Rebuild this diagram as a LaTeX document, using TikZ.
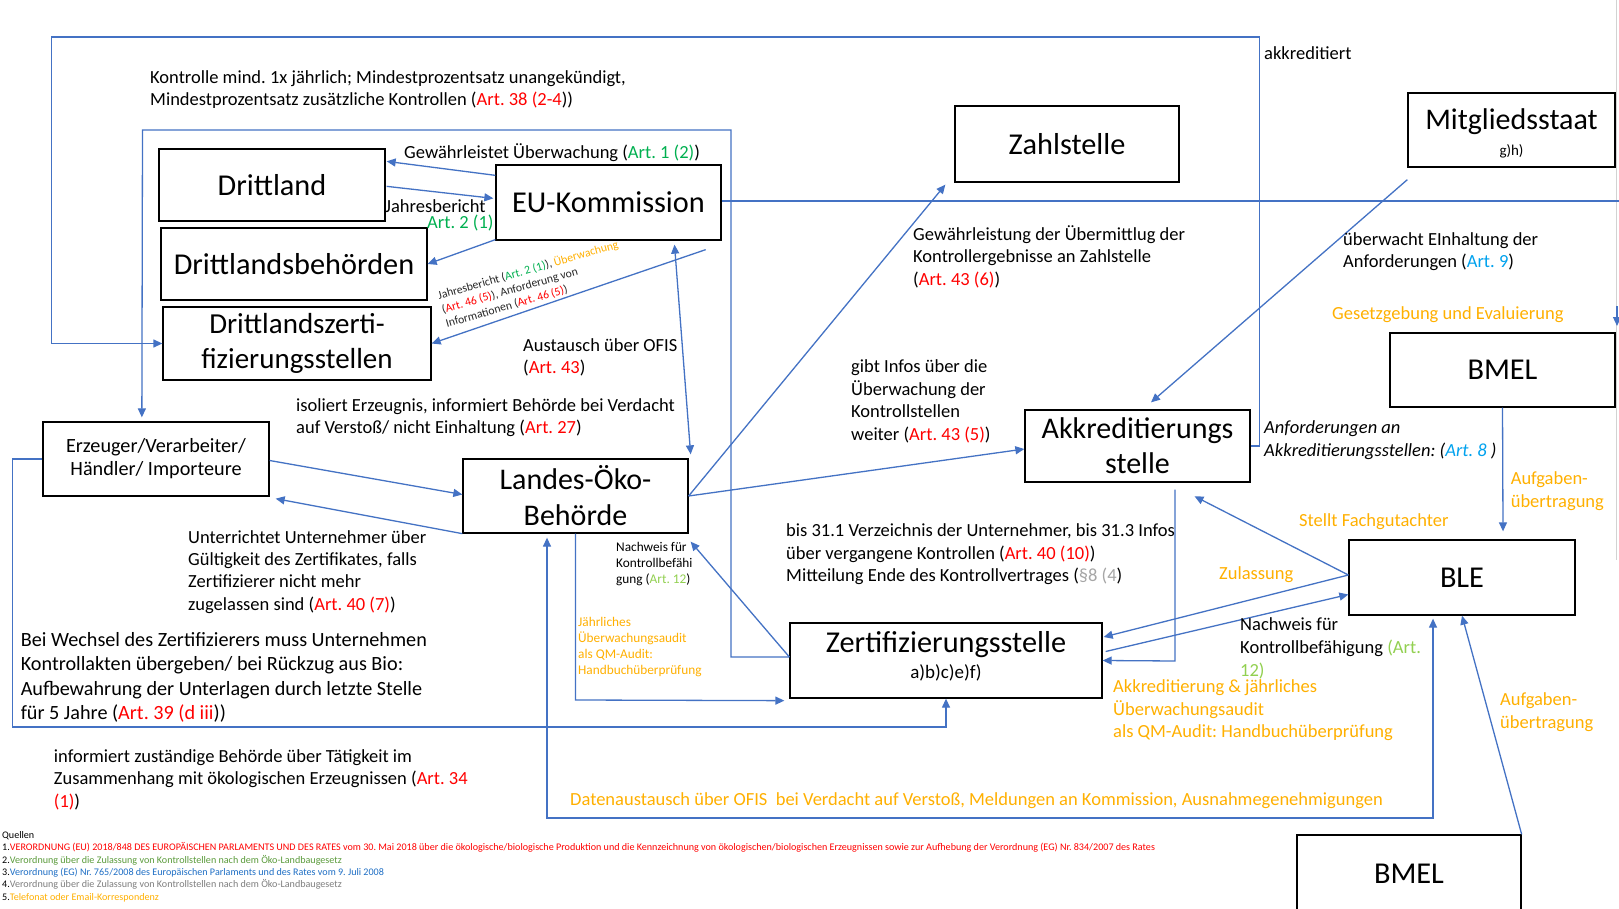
\documentclass[tikz,border=0pt]{standalone}
\usepackage{fontspec}
\setmainfont{Carlito}
\usetikzlibrary{calc,arrows.meta}
\definecolor{bl}{HTML}{4472C4}
\definecolor{rd}{HTML}{FF0000}
\definecolor{gr}{HTML}{00B050}
\definecolor{lg}{HTML}{92D050}
\definecolor{og}{HTML}{FFB000}
\definecolor{cy}{HTML}{00A2EE}
\definecolor{gy}{HTML}{A6A6A6}
\definecolor{dg}{HTML}{5B9B3B}
\definecolor{sb}{HTML}{1F6FC5}
\definecolor{sg}{HTML}{7F7F7F}
\newcommand{\redt}[1]{\textcolor{rd}{#1}}
\newcommand{\grnt}[1]{\textcolor{gr}{#1}}
\newcommand{\lgrt}[1]{\textcolor{lg}{#1}}
\newcommand{\ogt}[1]{\textcolor{og}{#1}}
\newcommand{\cyt}[1]{\textcolor{cy}{#1}}
\newcommand{\gyt}[1]{\textcolor{gy}{#1}}
\frenchspacing
\begin{document}
\begin{tikzpicture}[x=1pt,y=-1pt,
 bx/.style={draw=black,line width=1.3pt,inner sep=0pt,align=center,font=\fontsize{30.3}{35}\selectfont},
 ar/.style={draw=bl,line width=1.3pt,-{Triangle[length=9pt,width=8pt]}},
 dar/.style={draw=bl,line width=1.3pt,{Triangle[length=9pt,width=8pt]}-{Triangle[length=9pt,width=8pt]}},
 ln/.style={draw=bl,line width=1.3pt},
 lbl/.style={anchor=north west,inner sep=0pt,align=left,font=\fontsize{18.5}{22.5}\selectfont},
 sml/.style={anchor=north west,inner sep=0pt,align=left,font=\fontsize{13.3}{16}\selectfont},
 src/.style={anchor=north west,inner sep=0pt,align=left,font=\fontsize{10.1}{12.4}\selectfont},
 ]
\useasboundingbox (0,0) rectangle (1619,909);
\fill[white] (0,0) rectangle (1619,909);
\draw[gray!35,line width=1pt] (1616,0) -- (1616,560);

% boxes
\node[bx,minimum width=226pt,minimum height=72pt] (drittland) at (272,185) {Drittland};
\node[bx,minimum width=225pt,minimum height=75pt] (eu) at (608.5,202.5) {EU-Kommission};
\node[bx,minimum width=266pt,minimum height=72pt] (dbeh) at (294,264) {Drittlandsbehörden};
\node[bx,minimum width=268pt,minimum height=73pt,font=\fontsize{29}{35}\selectfont] (dzs) at (297,343.5) {Drittlandszerti-\\fizierungsstellen};
\node[bx,minimum width=224pt,minimum height=76pt] (zahl) at (1067,144) {Zahlstelle};
\node[bx,minimum width=207pt,minimum height=74pt] (mitglied) at (1511.5,130) {\mbox{}\\[-7pt]{\fontsize{30}{30}\selectfont Mitgliedsstaat}\\[-9pt]{\fontsize{15}{15}\selectfont g)h)}};
\node[bx,minimum width=225pt,minimum height=74pt] (bmel1) at (1502.5,370) {BMEL};
\node[bx,minimum width=225pt,minimum height=72pt,font=\fontsize{30}{35}\selectfont] (akk) at (1137.5,446) {Akkreditierungs\\stelle};
\node[bx,minimum width=226pt,minimum height=74pt,font=\fontsize{20.2}{23}\selectfont] (erz) at (156,459) {Erzeuger/Verarbeiter/\\Händler/ Importeure};
\node[bx,minimum width=225pt,minimum height=74pt,font=\fontsize{30}{36}\selectfont] (loeb) at (575.5,496) {Landes-Öko-\\Behörde};
\node[bx,minimum width=226pt,minimum height=75pt] (ble) at (1462,577.5) {BLE};
\node[bx,minimum width=312pt,minimum height=75pt] (zert) at (946,660.5) {{\fontsize{30.3}{30}\selectfont Zertifizierungsstelle}\\[-9pt]{\fontsize{19}{19}\selectfont a)b)c)e)f)}\\[-24pt]\mbox{}};
\node[bx,minimum width=224pt,minimum height=77pt] (bmel2) at (1409,873.5) {BMEL};

% connectors
\draw[ar] (akk.east) -- (1259.7,446) -- (1259.7,37) -- (51.6,37) -- (51.6,343.5) -- (dzs.west);
\draw[ar] ($(zert.west)+(0,-3.5)$) -- (731,657) -- (731,130) -- (142.5,130) -- ($(erz.north west)+(99.5,-4)$);
\draw[ar] ($(eu.north west)+(0,11)$) -- ($(drittland.north east)+(1,13)$);
\draw[ar] ($(drittland.north east)+(1,38)$) -- ($(eu.north west)+(-2,34)$);
\draw[ar] ($(eu.south west)+(0,-1)$) -- (dbeh.east);
\draw[ar] ($(eu.south east)+(-16,9)$) -- (dzs.east);
\draw[dar] ($(eu.south)+(66,4)$) -- ($(loeb.north east)+(2,-4)$);
\draw[ar] (loeb.east) -- ($(zahl.south west)+(-9,2)$);
\draw[ar] (loeb.east) -- ($(akk.west)+(0,3)$);
\draw[ar] ($(mitglied.south west)+(0,12)$) -- ($(akk.north)+(13.5,-7)$);
\coordinate (edgeR) at (1619,201);
\draw[ln] ($(eu.east)+(0,-1.5)$) -- (edgeR);
\coordinate (edgeA) at (1617,306);
\draw[ar] (edgeA) -- (1617,326);
\draw[ar] ($(erz.east)+(0,1.5)$) -- ($(loeb.west)+(0,-1.5)$);
\draw[ar] (loeb.south west) -- ($(erz.south east)+(6,2)$);
\draw[ar] (erz.west) -- (12.4,459) -- (12.4,727) -- (946,727) -- (zert.south);
\draw[ar] (loeb.south) -- (575.5,700) -- ($(zert.south west)+(-5,2)$);
\draw[ar] ($(zert.west)+(0,-3.5)$) -- ($(loeb.south east)+(2,8)$);
\draw[dar] ($(loeb.south)+(-28.5,4)$) -- (547,818) -- (1433,818) -- ($(ble.south)+(-29,3)$);
\draw[ar] ($(akk.south)+(37.5,7)$) -- (1175,661) -- (zert.east);
\draw[ar] ($(ble.west)+(0,-2.5)$) -- ($(zert.east)+(1,-23.5)$);
\draw[ar] ($(zert.east)+(3,-9)$) -- ($(ble.west)+(0,17)$);
\draw[ar] ($(ble.west)+(0,-2.5)$) -- ($(akk.south)+(57,13.6)$);
\draw[ar] (bmel1.south) -- ($(ble.north)+(41,-8)$);
\draw[ar] (bmel2.north east) -- (ble.south);

% labels
\node[lbl] (l1) at (150,70) {Kontrolle mind. 1x jährlich; Mindestprozentsatz unangekündigt,\\Mindestprozentsatz zusätzliche Kontrollen (\redt{Art. 38 (2-4}))};
\node[lbl] (l2) at (404,143) {Gewährleistet Überwachung (\grnt{Art. 1 (2)})};
\node[lbl] (l3) at (385,199) {Jahresbericht};
\node[lbl] (l4) at (427,215) {\grnt{Art. 2 (1)}};
\node[inner sep=0pt,align=left,rotate=16,font=\fontsize{11.7}{14.5}\selectfont,text=black!85] (l5) at (532,284) {Jahresbericht (\grnt{Art. 2 (1)}), \ogt{Überwachung}\\(\redt{Art. 46 (5)}), Anforderung von\\Informationen (\redt{Art. 46 (5)})};
\node[lbl] (l6) at (523,338) {Austausch über OFIS\\(\redt{Art. 43})};
\node[lbl] (l7) at (296,398) {isoliert Erzeugnis, informiert Behörde bei Verdacht\\auf Verstoß/ nicht Einhaltung (\redt{Art. 27})};
\node[lbl] (l8) at (913,225) {Gewährleistung der Übermittlug der\\Kontrollergebnisse an Zahlstelle\\(\redt{Art. 43 (6)})};
\node[lbl] (l9) at (851,359.5) {gibt Infos über die\\Überwachung der\\Kontrollstellen\\weiter (\redt{Art. 43 (5)})};
\node[lbl] (l10) at (1343,232) {überwacht EInhaltung der\\Anforderungen (\cyt{Art. 9})};
\node[lbl,text=og] (l11) at (1332,306) {Gesetzgebung und Evaluierung};
\node[lbl,font=\fontsize{18.5}{22.5}\selectfont\itshape] (l12) at (1264,420.5) {Anforderungen an\\Akkreditierungsstellen: (\cyt{Art. 8 })};
\node[lbl] (l13) at (1264,46.5) {akkreditiert};
\node[lbl,font=\fontsize{18.5}{22.4}\selectfont] (l14) at (188,530) {Unterrichtet Unternehmer über\\Gültigkeit des Zertifikates, falls\\Zertifizierer nicht mehr\\zugelassen sind (\redt{Art. 40 (7)})};
\node[lbl,font=\fontsize{20.2}{24.5}\selectfont] (l15) at (20.6,632) {Bei Wechsel des Zertifizierers muss Unternehmen\\Kontrollakten übergeben/ bei Rückzug aus Bio:\\Aufbewahrung der Unterlagen durch letzte Stelle\\für 5 Jahre (\redt{Art. 39 (d iii}))};
\node[sml] (l16) at (616,542) {Nachweis für\\Kontrollbefähi\\gung (\lgrt{Art. 12})};
\node[sml,text=og] (l17) at (578,617.5) {Jährliches\\Überwachungsaudit\\als QM-Audit:\\Handbuchüberprüfung};
\node[lbl] (l18) at (786,523.5) {bis 31.1 Verzeichnis der Unternehmer, bis 31.3 Infos\\über vergangene Kontrollen (\redt{Art. 40 (10)})\\Mitteilung Ende des Kontrollvertrages (\gyt{§8 (4})};
\node[lbl,text=og] (l19) at (1219,566) {Zulassung};
\node[lbl,text=og] (l20) at (1299,513) {Stellt Fachgutachter};
\node[lbl,font=\fontsize{18.5}{23.2}\selectfont] (l21) at (1240,617) {Nachweis für\\Kontrollbefähigung \lgrt{(Art.}\\\lgrt{12)}};
\node[lbl,text=og] (l22) at (1113,679.5) {Akkreditierung \& jährliches\\Überwachungsaudit\\als QM-Audit: Handbuchüberprüfung};
\node[lbl,text=og,font=\fontsize{18.5}{23.7}\selectfont] (l23) at (1510.6,471) {Aufgaben-\\übertragung};
\node[lbl,text=og,font=\fontsize{18.5}{23}\selectfont] (l24) at (1500,692) {Aufgaben-\\übertragung};
\node[lbl,text=og] (l25) at (570,792) {Datenaustausch über OFIS\ \ bei Verdacht auf Verstoß, Meldungen an Kommission, Ausnahmegenehmigungen};
\node[lbl] (l26) at (53.7,749) {informiert zuständige Behörde über Tätigkeit im\\Zusammenhang mit ökologischen Erzeugnissen (\redt{Art. 34}\\\redt{(1)})};
\node[src] (l27) at (2,831) {Quellen\\
1.\textcolor{rd}{VERORDNUNG (EU) 2018/848 DES EUROPÄISCHEN PARLAMENTS UND DES RATES vom 30. Mai 2018 über die ökologische/biologische Produktion und die Kennzeichnung von ökologischen/biologischen Erzeugnissen sowie zur Aufhebung der Verordnung (EG) Nr. 834/2007 des Rates}\\
2.\textcolor{dg}{Verordnung über die Zulassung von Kontrollstellen nach dem Öko-Landbaugesetz}\\
3.\textcolor{sb}{Verordnung (EG) Nr. 765/2008 des Europäischen Parlaments und des Rates vom 9. Juli 2008}\\
4.\textcolor{sg}{Verordnung über die Zulassung von Kontrollstellen nach dem Öko-Landbaugesetz}\\
5.\textcolor{og}{Telefonat oder Email-Korrespondenz}};
\end{tikzpicture}
\end{document}
